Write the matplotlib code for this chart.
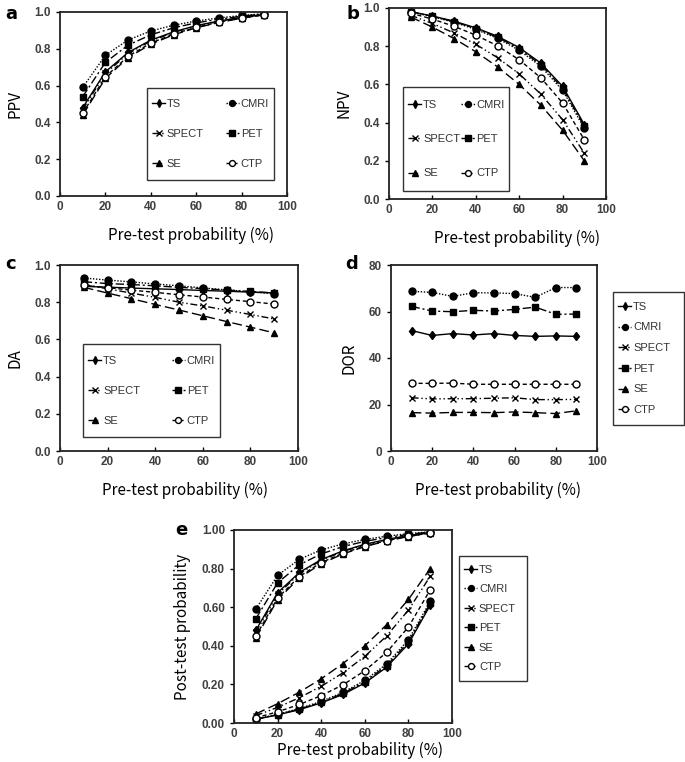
import numpy as np
import matplotlib
matplotlib.use("Agg")
import matplotlib.pyplot as plt
from matplotlib.patches import Rectangle

# pre-test probability (%)
pretest = [10, 20, 30, 40, 50, 60, 70, 80, 90]
tests = ["TS", "CMRI", "SPECT", "PET", "SE", "CTP"]

# a - PPV
ppv = {
    "TS":    [0.48, 0.675, 0.78, 0.847, 0.892, 0.926, 0.951, 0.971, 0.987],
    "CMRI":  [0.59, 0.765, 0.848, 0.897, 0.928, 0.951, 0.968, 0.981, 0.991],
    "SPECT": [0.47, 0.666, 0.774, 0.842, 0.889, 0.923, 0.949, 0.970, 0.986],
    "PET":   [0.54, 0.726, 0.82, 0.876, 0.914, 0.941, 0.961, 0.977, 0.990],
    "SE":    [0.44, 0.639, 0.752, 0.825, 0.876, 0.914, 0.943, 0.966, 0.985],
    "CTP":   [0.45, 0.648, 0.759, 0.831, 0.880, 0.917, 0.945, 0.967, 0.985],
}

# b - NPV
npv = {
    "TS":    [0.981, 0.958, 0.931, 0.896, 0.852, 0.793, 0.711, 0.590, 0.39],
    "CMRI":  [0.979, 0.955, 0.925, 0.888, 0.841, 0.779, 0.694, 0.569, 0.37],
    "SPECT": [0.962, 0.919, 0.869, 0.810, 0.740, 0.655, 0.549, 0.415, 0.24],
    "PET":   [0.980, 0.957, 0.928, 0.892, 0.847, 0.786, 0.703, 0.580, 0.38],
    "SE":    [0.953, 0.900, 0.840, 0.771, 0.692, 0.600, 0.491, 0.360, 0.20],
    "CTP":   [0.973, 0.942, 0.904, 0.858, 0.802, 0.729, 0.634, 0.503, 0.31],
}

# c - diagnostic accuracy
da = {
    "TS":    [0.885, 0.881, 0.876, 0.872, 0.868, 0.863, 0.859, 0.854, 0.850],
    "CMRI":  [0.930, 0.919, 0.909, 0.898, 0.888, 0.877, 0.866, 0.856, 0.845],
    "SPECT": [0.895, 0.872, 0.849, 0.826, 0.800, 0.780, 0.757, 0.734, 0.710],
    "PET":   [0.910, 0.900, 0.895, 0.888, 0.880, 0.873, 0.865, 0.858, 0.850],
    "SE":    [0.880, 0.849, 0.819, 0.788, 0.758, 0.727, 0.696, 0.666, 0.635],
    "CTP":   [0.890, 0.878, 0.865, 0.853, 0.840, 0.828, 0.815, 0.803, 0.790],
}

# d - diagnostic odds ratio
dor = {
    "TS":    [51.8, 49.7, 50.5, 49.9, 50.5, 49.7, 49.3, 49.5, 49.3],
    "CMRI":  [68.7, 68.2, 66.5, 68.1, 68.0, 67.7, 66.1, 70.3, 70.3],
    "SPECT": [22.9, 22.4, 22.5, 22.5, 22.7, 22.9, 22.1, 22.1, 22.2],
    "PET":   [62.2, 60.2, 59.9, 60.5, 60.2, 60.9, 61.9, 58.8, 58.9],
    "SE":    [16.5, 16.3, 16.6, 16.6, 16.5, 16.8, 16.5, 16.1, 17.3],
    "CTP":   [29.1, 29.1, 29.2, 28.7, 28.7, 28.7, 28.7, 28.7, 28.7],
}

# e - post-test probability after a negative result
post_neg = {
    "TS":    [0.019, 0.042, 0.069, 0.104, 0.148, 0.207, 0.289, 0.410, 0.61],
    "CMRI":  [0.021, 0.045, 0.075, 0.112, 0.159, 0.221, 0.306, 0.431, 0.63],
    "SPECT": [0.038, 0.081, 0.131, 0.190, 0.260, 0.345, 0.451, 0.585, 0.76],
    "PET":   [0.020, 0.043, 0.072, 0.108, 0.153, 0.214, 0.297, 0.420, 0.62],
    "SE":    [0.047, 0.100, 0.160, 0.229, 0.308, 0.400, 0.509, 0.640, 0.80],
    "CTP":   [0.027, 0.058, 0.096, 0.142, 0.198, 0.271, 0.366, 0.497, 0.69],
}

styles = {
    "TS":    dict(ls="-", marker="d", ms=4.5, mfc="black"),
    "CMRI":  dict(ls=(0, (1, 1.2)), marker="o", ms=5, mfc="black"),
    "SPECT": dict(ls=(0, (5, 2, 1, 2, 1, 2)), marker="x", ms=5, mfc="black"),
    "PET":   dict(ls=(0, (6, 2, 1.5, 2)), marker="s", ms=4.5, mfc="black"),
    "SE":    dict(ls=(0, (7, 3)), marker="^", ms=5, mfc="black"),
    "CTP":   dict(ls=(0, (3, 2)), marker="o", ms=5, mfc="white"),
}

lab_font = ["Noto Sans CJK JP", "DejaVu Sans"]
tick_col = "#404040"

W, H = 685, 762
fig = plt.figure(figsize=(W / 100, H / 100), dpi=100)


def box(l, t, r, b):
    return [l / W, 1 - b / H, (r - l) / W, (b - t) / H]


def setup(ax, ylim, yticks, yfmt, ylabel, xlab_x, xpad=10):
    ax.set_xlim(0, 100)
    ax.set_ylim(*ylim)
    ax.set_xticks(range(0, 101, 20))
    ax.set_yticks(yticks)
    ax.set_yticklabels([yfmt.format(v) for v in yticks])
    for s in ax.spines.values():
        s.set_linewidth(1.3)
        s.set_color("#222222")
    ax.tick_params(axis="x", direction="in", length=3, width=1)
    ax.tick_params(axis="y", direction="out", length=3, width=1)
    ax.tick_params(labelsize=8.5, labelcolor=tick_col)
    for t in ax.get_xticklabels() + ax.get_yticklabels():
        t.set_fontweight("bold")
        t.set_family("Liberation Sans")
    ax.set_xlabel("Pre-test probability (%)", family=lab_font, fontsize=11,
                  labelpad=xpad, x=xlab_x)
    ax.set_ylabel(ylabel, family=lab_font, fontsize=11, labelpad=8)


def draw(ax, data, label=True):
    hs = {}
    for name in tests:
        h, = ax.plot(pretest, data[name], color="black", lw=1,
                     mec="black", mew=1, label=name if label else None,
                     **styles[name])
        hs[name] = h
    return hs


def legend(ax, hs, order, ncol, anchor, spacing):
    # frame drawn by hand so the box keeps the reference size
    x0, y0, w, h = anchor
    ax.add_patch(Rectangle((x0, y0), w, h, transform=ax.transAxes,
                           facecolor="white", edgecolor="#333333", lw=1,
                           clip_on=False, zorder=4))
    lg = ax.legend([hs[n] for n in order], order, ncol=ncol, loc="center",
                   bbox_to_anchor=anchor, mode="expand", borderaxespad=0,
                   frameon=False, handlelength=1.2, handletextpad=0.15,
                   markerscale=0.85, labelspacing=spacing, borderpad=0.45,
                   columnspacing=0.3, labelcolor="#333333",
                   prop={"family": "Liberation Sans", "size": 8})
    lg.set_zorder(5)
    return lg


two_col = ["TS", "SPECT", "SE", "CMRI", "PET", "CTP"]

# a
ax = fig.add_axes(box(60, 12, 287, 196))
setup(ax, (0, 1), np.arange(0, 1.01, 0.2), "{:.1f}", "PPV", 0.577)
hs = draw(ax, ppv)
legend(ax, hs, two_col, 2, (0.383, 0.087, 0.56, 0.5), 1.8)
fig.text(5 / W, 1 - 14 / H, "a", fontsize=13, fontweight="bold", va="center")

# b
ax = fig.add_axes(box(389, 8, 606, 199))
setup(ax, (0, 1), np.arange(0, 1.01, 0.2), "{:.1f}", "NPV", 0.59)
hs = draw(ax, npv)
legend(ax, hs, two_col, 2, (0.065, 0.042, 0.49, 0.544), 2.2)
fig.text(347 / W, 1 - 14 / H, "b", fontsize=13, fontweight="bold", va="center")

# c
ax = fig.add_axes(box(60, 265, 298, 451))
setup(ax, (0, 1), np.arange(0, 1.01, 0.2), "{:.1f}", "DA", 0.525)
hs = draw(ax, da)
legend(ax, hs, two_col, 2, (0.097, 0.075, 0.575, 0.5), 1.8)
fig.text(5 / W, 1 - 264 / H, "c", fontsize=13, fontweight="bold", va="center")

# d
ax = fig.add_axes(box(391, 265, 597, 451))
setup(ax, (0, 80), np.arange(0, 81, 20), "{:.0f}", "DOR", 0.52)
hs = draw(ax, dor)
legend(ax, hs, tests, 1, (1.078, 0.14, 0.344, 0.715), 0.96)
fig.text(345 / W, 1 - 264 / H, "d", fontsize=13, fontweight="bold", va="center")

# e
ax = fig.add_axes(box(234, 530, 452, 723))
setup(ax, (0, 1), np.arange(0, 1.01, 0.2), "{:.2f}", "Post-test probability",
      0.578, xpad=1.5)
hs = draw(ax, ppv)
draw(ax, post_neg, label=False)
legend(ax, hs, tests, 1, (1.032, 0.218, 0.312, 0.647), 0.86)
fig.text(175 / W, 1 - 530 / H, "e", fontsize=13, fontweight="bold", va="center")

fig.savefig("out.png", dpi=100)
